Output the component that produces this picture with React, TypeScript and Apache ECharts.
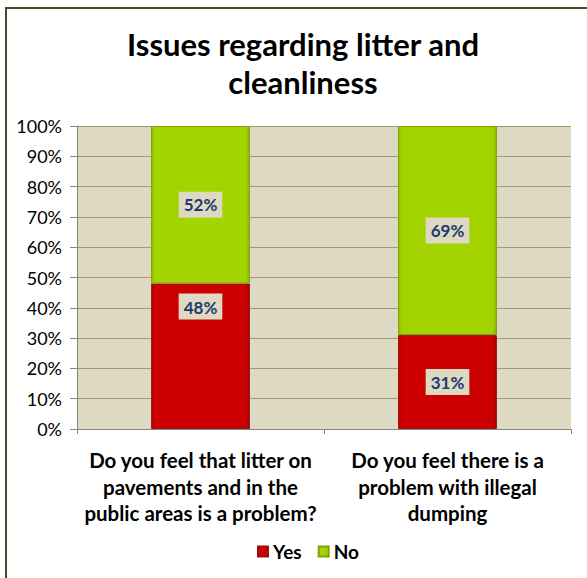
import React, { useEffect, useRef } from "react";
import * as echarts from "echarts";

const categories = [
  "Do you feel that litter on\npavements and in the\npublic areas is a problem?",
  "Do you feel there is a\nproblem with illegal\ndumping",
];
const yesValues = [48, 31];
const noValues = [52, 69];
const seriesNames = ["Yes", "No"];
const titleText = "Issues regarding litter and\ncleanliness";

const FONT = "Lato, 'Open Sans', sans-serif";

const App: React.FC = () => {
  const ref = useRef<HTMLDivElement>(null);

  useEffect(() => {
    if (!ref.current) return;
    const chart = echarts.init(ref.current, null, { renderer: "svg" });

    const labelStyle = {
      show: true,
      position: "inside" as const,
      formatter: "{c}%",
      color: "#1f3a70",
      fontFamily: FONT,
      fontWeight: "bold" as const,
      fontSize: 17,
      backgroundColor: "#ddd9c3",
      padding: [5, 5, 4, 5],
    };

    chart.setOption({
      animation: false,
      backgroundColor: "#ffffff",
      title: {
        text: titleText,
        left: 298,
        textAlign: "center",
        top: 20,
        textStyle: {
          fontFamily: FONT,
          fontWeight: "bold",
          fontSize: 31,
          lineHeight: 38,
          color: "#000000",
        },
      },
      graphic: [
        {
          type: "rect",
          shape: { x: 6, y: 8, width: 620, height: 620 },
          style: { fill: "none", stroke: "#4a4630", lineWidth: 2 },
          silent: true,
        },
      ],
      legend: {
        data: seriesNames,
        bottom: 12,
        left: 252,
        itemWidth: 10,
        itemHeight: 10,
        itemGap: 16,
        icon: "rect",
        textStyle: {
          fontFamily: FONT,
          fontWeight: "bold",
          fontSize: 19,
          color: "#000000",
        },
      },
      grid: {
        left: 77,
        right: 16,
        top: 126,
        bottom: 149,
        show: true,
        backgroundColor: "#ddd9c3",
        borderWidth: 0,
      },
      xAxis: {
        type: "category",
        data: categories,
        axisLine: { show: true, lineStyle: { color: "#868686", width: 1 } },
        axisTick: { show: true, length: 5, lineStyle: { color: "#868686" } },
        axisLabel: {
          interval: 0,
          margin: 18,
          fontFamily: FONT,
          fontWeight: "bold",
          fontSize: 20.5,
          lineHeight: 26.5,
          color: "#000000",
        },
      },
      yAxis: {
        type: "value",
        min: 0,
        max: 100,
        interval: 10,
        axisLine: { show: true, lineStyle: { color: "#868686", width: 1 } },
        axisTick: { show: true, length: 7, lineStyle: { color: "#868686" } },
        axisLabel: {
          formatter: "{value}%",
          margin: 15,
          fontFamily: FONT,
          fontSize: 18,
          color: "#000000",
        },
        splitLine: { show: true, lineStyle: { color: "#a19b6f", width: 1 } },
      },
      series: [
        {
          name: seriesNames[0],
          type: "bar",
          stack: "total",
          barWidth: "40%",
          data: yesValues.map((v, i) =>
            i === 0
              ? { value: v, label: { position: "insideTop", distance: 10 } }
              : v
          ),
          itemStyle: {
            color: {
              type: "linear",
              x: 0,
              y: 0,
              x2: 1,
              y2: 0,
              colorStops: [
                { offset: 0, color: "#b50000" },
                { offset: 0.04, color: "#cc0000" },
                { offset: 0.96, color: "#cc0000" },
                { offset: 1, color: "#a80000" },
              ],
            },
            borderColor: "#9a1010",
            borderWidth: 1,
          },
          label: labelStyle,
        },
        {
          name: seriesNames[1],
          type: "bar",
          stack: "total",
          barWidth: "40%",
          data: noValues,
          itemStyle: {
            color: {
              type: "linear",
              x: 0,
              y: 0,
              x2: 1,
              y2: 0,
              colorStops: [
                { offset: 0, color: "#92c000" },
                { offset: 0.04, color: "#a3d400" },
                { offset: 0.96, color: "#a3d400" },
                { offset: 1, color: "#8cb800" },
              ],
            },
            borderColor: "#7fa010",
            borderWidth: 1,
          },
          label: labelStyle,
        },
      ],
    });

    return () => {
      chart.dispose();
    };
  }, []);

  return (
    <div
      ref={ref}
      style={{
        position: "absolute",
        left: 0,
        top: 0,
        width: 587,
        height: 578,
        background: "#ffffff",
      }}
    />
  );
};

export default App;
